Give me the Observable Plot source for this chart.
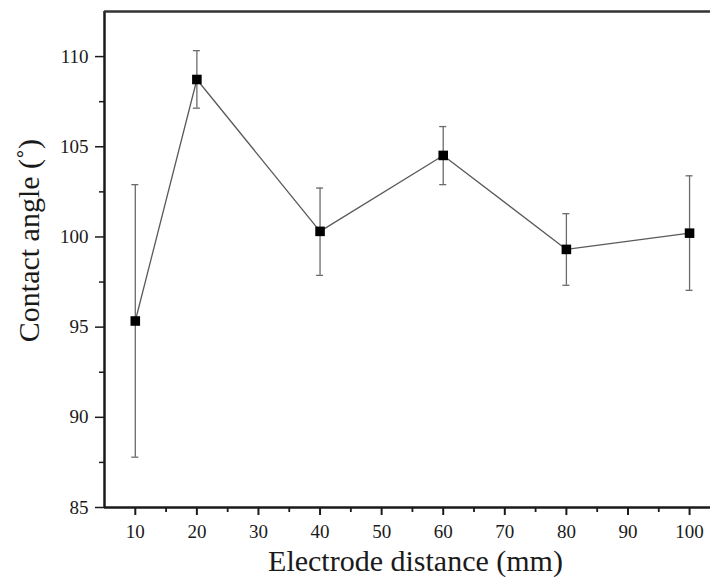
<!DOCTYPE html>
<html>
<head>
<meta charset="utf-8">
<script src="https://cdn.jsdelivr.net/npm/d3@7"></script>
<script src="https://cdn.jsdelivr.net/npm/@observablehq/plot@0.6"></script>
<style>
  html, body { margin: 0; padding: 0; background: #fff; }
  #chart svg { display: block; }
</style>
</head>
<body>
<div id="chart"></div>
<script>
// Contact angle vs. electrode distance, mean with error bars
const distance = [10, 20, 40, 60, 80, 100];
const angle    = [95.34, 108.73, 100.31, 104.52, 99.31, 100.21];
const errHigh  = [102.9, 110.33, 102.71, 106.12, 101.29, 103.39];
const errLow   = [87.79, 107.14, 97.87, 102.9, 97.32, 97.04];

const xTicks = [10, 20, 30, 40, 50, 60, 70, 80, 90, 100];
const xMinor = [15, 25, 35, 45, 55, 65, 75, 85, 95];
const yTicks = [85, 90, 95, 100, 105, 110];
const yMinor = [87.5, 92.5, 97.5, 102.5, 107.5];

const data = distance.map((d, i) => ({d, a: angle[i], hi: errHigh[i], lo: errLow[i]}));

const font = "'Liberation Serif', 'Times New Roman', serif";
const ink = "#1a1a1a";
const bar = "#6b6b6b";

const chart = Plot.plot({
  width: 710,
  height: 581,
  marginLeft: 104,
  marginRight: 0,
  marginTop: 11,
  marginBottom: 74,
  style: {fontFamily: font, background: "#fff", color: ink},
  x: {type: "linear", domain: [5, 103.4]},
  y: {type: "linear", domain: [85, 112.5]},
  marks: [
    // major ticks with labels, minor ticks without
    Plot.axisX(xTicks, {tickSize: 8, tickPadding: 9, fontSize: 19, stroke: ink, strokeWidth: 2, label: null}),
    Plot.axisX(xMinor, {tickSize: 5, text: null, stroke: ink, strokeWidth: 1.8, label: null}),
    Plot.axisY(yTicks, {tickSize: 9, tickPadding: 7, fontSize: 19, stroke: ink, strokeWidth: 1.5, label: null}),
    Plot.axisY(yMinor, {tickSize: 5, text: null, stroke: ink, strokeWidth: 1.5, label: null}),
    // frame: left, bottom, top
    Plot.ruleX([5], {stroke: ink, strokeWidth: 2.5}),
    Plot.ruleY([85], {stroke: ink, strokeWidth: 2.5}),
    Plot.ruleY([112.5], {stroke: "#333", strokeWidth: 2.5}),
    // error bars with caps
    Plot.ruleX(data, {x: "d", y1: "lo", y2: "hi", stroke: bar, strokeWidth: 1.3}),
    Plot.ruleY(data, {y: "hi", x1: "d", x2: "d", insetLeft: -3.5, insetRight: -3.5, stroke: bar, strokeWidth: 1.3}),
    Plot.ruleY(data, {y: "lo", x1: "d", x2: "d", insetLeft: -3.5, insetRight: -3.5, stroke: bar, strokeWidth: 1.3}),
    // connecting line and square markers
    Plot.line(data, {x: "d", y: "a", stroke: "#5a5a5a", strokeWidth: 1.3}),
    Plot.dot(data, {x: "d", y: "a", symbol: "square", r: 5.4, fill: "#000", stroke: "none"}),
    // axis titles
    Plot.text(["Electrode distance (mm)"], {frameAnchor: "bottom", dy: 63, dx: 8, fontSize: 30, fill: ink, text: d => d}),
    Plot.text(["Contact angle (˚)"], {frameAnchor: "left", textAnchor: "middle", y: [99.8], dx: -75, rotate: -90, fontSize: 30, fill: ink, text: d => d})
  ]
});

document.getElementById("chart").appendChild(chart);
</script>
</body>
</html>
